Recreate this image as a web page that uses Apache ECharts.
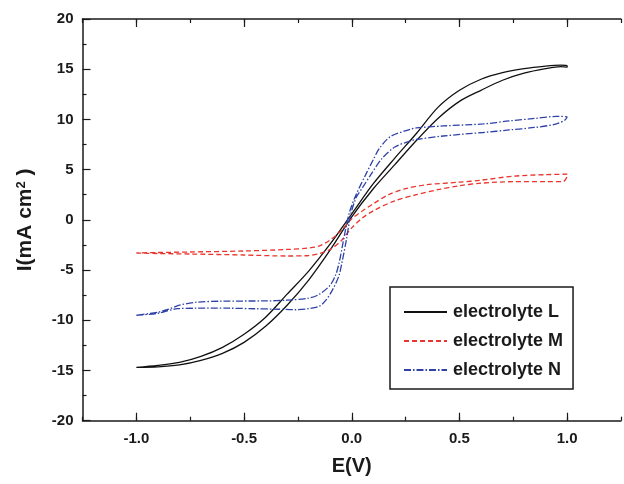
<!DOCTYPE html>
<html>
<head>
<meta charset="utf-8">
<script src="https://cdn.jsdelivr.net/npm/echarts@6/dist/echarts.min.js"></script>
<style>html,body{margin:0;padding:0;background:#fff;}#c{width:624px;height:484px;}</style>
</head>
<body>
<div id="c"></div>
<script>
// ---- data (E in V, I in mA cm^-2) ----
var seriesNames = ['electrolyte L', 'electrolyte M', 'electrolyte N'];
var xMajorTicks = [-1.0, -0.5, 0.0, 0.5, 1.0];

var L_lower = [[-1.0,-14.7],[-0.9,-14.65],[-0.8,-14.45],[-0.7,-14.0],[-0.6,-13.3],[-0.5,-12.2],[-0.4,-10.6],[-0.3,-8.5],[-0.2,-6.0],[-0.1,-3.0],[0.0,0.3],[0.1,3.1],[0.2,5.5],[0.3,7.9],[0.4,10.1],[0.5,11.8],[0.6,12.9],[0.7,13.9],[0.8,14.6],[0.9,15.05],[0.97,15.25],[1.0,15.2]];
var L_upper = [[-1.0,-14.7],[-0.9,-14.5],[-0.8,-14.2],[-0.7,-13.6],[-0.6,-12.7],[-0.5,-11.4],[-0.4,-9.7],[-0.3,-7.4],[-0.2,-5.1],[-0.1,-2.4],[0.0,0.6],[0.1,3.6],[0.2,6.15],[0.3,8.6],[0.4,11.2],[0.5,12.9],[0.6,14.0],[0.7,14.65],[0.8,15.05],[0.9,15.3],[0.97,15.4],[1.0,15.35]];

var M_lower = [[-1.0,-3.3],[-0.9,-3.35],[-0.75,-3.4],[-0.5,-3.5],[-0.3,-3.6],[-0.2,-3.55],[-0.15,-3.35],[-0.1,-2.95],[-0.05,-2.1],[0.0,-0.8],[0.05,0.2],[0.1,0.9],[0.2,1.9],[0.3,2.5],[0.4,3.0],[0.5,3.4],[0.6,3.65],[0.75,3.8],[0.9,3.8],[0.98,3.8],[1.0,4.4]];
var M_upper = [[-1.0,-3.3],[-0.9,-3.25],[-0.75,-3.2],[-0.5,-3.1],[-0.3,-2.95],[-0.2,-2.8],[-0.15,-2.6],[-0.1,-2.0],[-0.05,-1.1],[0.0,0.1],[0.05,0.9],[0.1,1.6],[0.17,2.5],[0.25,3.1],[0.35,3.5],[0.5,3.75],[0.6,3.95],[0.75,4.35],[0.9,4.5],[1.0,4.55]];

var N_lower = [[-1.0,-9.5],[-0.9,-9.3],[-0.81,-8.85],[-0.72,-8.8],[-0.57,-8.8],[-0.45,-8.85],[-0.34,-8.9],[-0.26,-8.95],[-0.2,-8.85],[-0.15,-8.6],[-0.12,-8.0],[-0.09,-7.0],[-0.06,-5.6],[-0.045,-4.2],[-0.025,-2.0],[-0.005,0.5],[0.02,2.2],[0.05,3.2],[0.09,4.55],[0.14,6.1],[0.2,7.25],[0.27,7.85],[0.3,8.0],[0.425,8.35],[0.61,8.7],[0.73,8.95],[0.85,9.2],[0.95,9.55],[0.99,9.95]];
var N_upper = [[-1.0,-9.5],[-0.9,-9.2],[-0.85,-8.9],[-0.8,-8.5],[-0.72,-8.2],[-0.6,-8.1],[-0.4,-8.07],[-0.3,-8.0],[-0.2,-7.8],[-0.15,-7.4],[-0.1,-6.5],[-0.075,-5.5],[-0.06,-4.4],[-0.045,-2.8],[-0.03,-1.1],[-0.01,0.8],[0.02,2.5],[0.067,4.6],[0.1,6.0],[0.128,7.1],[0.18,8.3],[0.27,9.0],[0.3,9.15],[0.425,9.35],[0.61,9.55],[0.73,9.85],[0.85,10.1],[0.95,10.3],[1.0,10.25]];

function loop(lower, upper) { return lower.concat(upper.slice().reverse()); }

var FONT = '"Liberation Sans", Arial, sans-serif';
var AX = '#1a1a1a';

function xAxisBase(pos, withLabels) {
  return {
    type: 'value', position: pos, min: -1.25, max: 1.25, interval: 0.25,
    axisLine: { show: true, onZero: false, lineStyle: { color: AX, width: 1.5 } },
    axisTick: { show: true, inside: true, length: 4, lineStyle: { color: AX, width: 1.2 } },
    axisLabel: withLabels ? {
      show: true, margin: 11, color: '#1a1a1a', fontFamily: FONT, fontWeight: 'bold', fontSize: 15,
      formatter: function (v) { return Math.abs(v * 2 - Math.round(v * 2)) < 1e-6 ? v.toFixed(1) : ''; }
    } : { show: false },
    splitLine: { show: false }
  };
}
function xAxisMajor(pos) {
  return {
    type: 'value', position: pos, min: -1.25, max: 1.25, interval: 0.25,
    axisLine: { show: false, onZero: false },
    axisTick: { show: true, inside: true, length: 8, customValues: xMajorTicks, lineStyle: { color: AX, width: 1.2 } },
    axisLabel: { show: false },
    splitLine: { show: false }
  };
}

var xa0 = xAxisBase('bottom', true);
xa0.name = 'E(V)';
xa0.nameLocation = 'middle';
xa0.nameGap = 36;
xa0.nameTextStyle = { fontFamily: FONT, fontWeight: 'bold', fontSize: 20, color: '#1a1a1a' };

var option = {
  animation: false,
  backgroundColor: '#fff',
  grid: { left: 82.5, top: 19, right: -3, bottom: 63.3, containLabel: false },
  xAxis: [xa0, xAxisMajor('bottom'), xAxisBase('top', false), xAxisMajor('top')],
  yAxis: [{
    type: 'value', position: 'left', min: -20, max: 20, interval: 5,
    name: 'I(mA cm{sup|2} )', nameLocation: 'middle', nameGap: 47, nameRotate: 90,
    nameTextStyle: { fontFamily: FONT, fontWeight: 'bold', fontSize: 21, color: '#1a1a1a',
      rich: { sup: { fontFamily: FONT, fontWeight: 'bold', fontSize: 13, color: '#1a1a1a', verticalAlign: 'top', padding: [0, 0, 8, 0] } } },
    axisLine: { show: true, onZero: false, lineStyle: { color: AX, width: 1.5 } },
    axisTick: { show: true, inside: true, length: 8, lineStyle: { color: AX, width: 1.2 } },
    minorTick: { show: true, splitNumber: 2, length: 4, lineStyle: { color: AX, width: 1.2 } },
    axisLabel: { margin: 9, color: '#1a1a1a', fontFamily: FONT, fontWeight: 'bold', fontSize: 15 },
    splitLine: { show: false }
  }],
  legend: {
    orient: 'vertical', left: 390, top: 287,
    padding: [16, 10, 10, 13],
    itemWidth: 43, itemHeight: 14, itemGap: 11,
    borderColor: '#1a1a1a', borderWidth: 1.5, borderRadius: 0,
    backgroundColor: '#fff',
    itemStyle: { opacity: 0 },
    textStyle: { fontFamily: FONT, fontWeight: 'bold', fontSize: 18, color: '#1a1a1a', padding: [0, 0, 0, 1] },
    data: seriesNames
  },
  series: [
    { name: seriesNames[0], type: 'line', xAxisIndex: 0, yAxisIndex: 0, data: loop(L_lower, L_upper), showSymbol: false, symbol: 'none', smooth: 0.3,
      lineStyle: { color: '#111', width: 1.3, type: 'solid' }, itemStyle: { color: '#111' } },
    { name: seriesNames[1], type: 'line', xAxisIndex: 0, yAxisIndex: 0, data: loop(M_lower, M_upper), showSymbol: false, symbol: 'none', smooth: 0.3,
      lineStyle: { color: '#e8352d', width: 1.3, type: [5, 3] }, itemStyle: { color: '#e8352d' } },
    { name: seriesNames[2], type: 'line', xAxisIndex: 0, yAxisIndex: 0, data: loop(N_lower, N_upper), showSymbol: false, symbol: 'none', smooth: 0.3,
      lineStyle: { color: '#2f42a8', width: 1.3, type: [7, 2, 1.5, 2] }, itemStyle: { color: '#2f42a8' } }
  ]
};
var chart = echarts.init(document.getElementById('c'), null, { renderer: 'canvas' });
chart.setOption(option);
</script>
</body>
</html>
